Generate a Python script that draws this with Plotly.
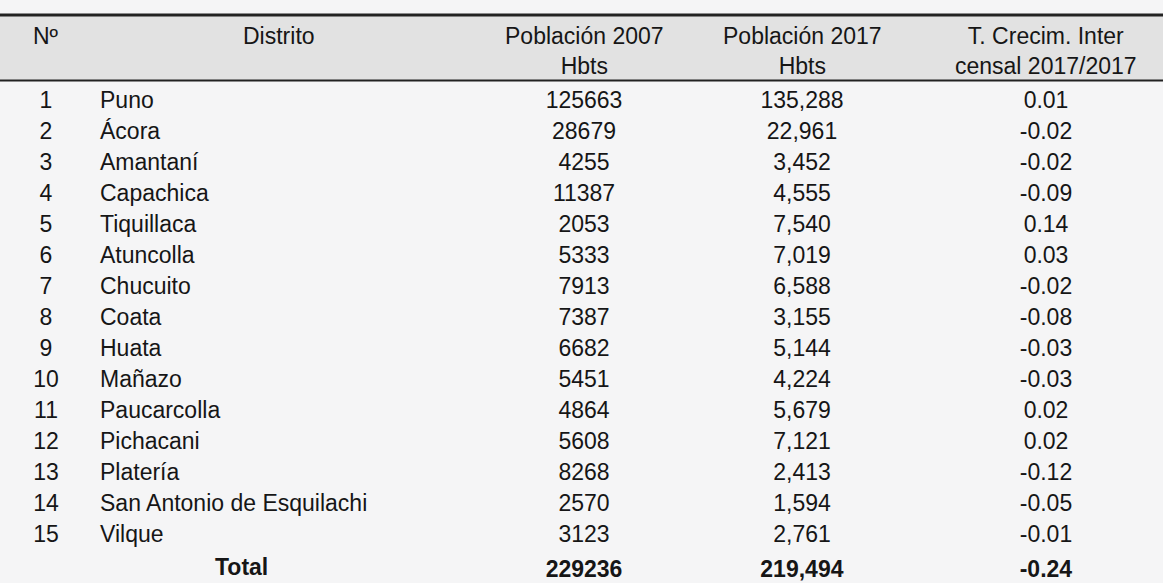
import plotly.graph_objects as go

# ---- data ----
numeros = list(range(1, 16))
distritos = ["Puno", "Ácora", "Amantaní", "Capachica", "Tiquillaca", "Atuncolla",
             "Chucuito", "Coata", "Huata", "Mañazo", "Paucarcolla", "Pichacani",
             "Platería", "San Antonio de Esquilachi", "Vilque"]
pob_2007 = [125663, 28679, 4255, 11387, 2053, 5333, 7913, 7387, 6682, 5451,
            4864, 5608, 8268, 2570, 3123]
pob_2017 = [135288, 22961, 3452, 4555, 7540, 7019, 6588, 3155, 5144, 4224,
            5679, 7121, 2413, 1594, 2761]
tasa = [0.01, -0.02, -0.02, -0.09, 0.14, 0.03, -0.02, -0.08, -0.03, -0.03,
        0.02, 0.02, -0.12, -0.05, -0.01]
total_label = "Total"
total_2007 = 229236
total_2017 = 219494
total_tasa = -0.24
headers = ["Nº", "Distrito", "Población 2007<br>Hbts", "Población 2017<br>Hbts",
           "T. Crecim. Inter<br>censal 2017/2017"]

# ---- style ----
W, H = 1163, 583
FONT = "Liberation Sans, Arial, sans-serif"
FS = 23
BG = "#f5f5f6"
HEAD_BG = "#e2e2e2"
TXT = "#161616"
col_widths = [92, 401, 182, 254, 234]
header_x = [46, 279, 584, 802, 1046]   # header label centres (px)
top_px = 15
header_h = 68
row_h = 31


def py(px):
    return 1 - px / H


col_no = [str(n) for n in numeros] + [""]
col_dist = distritos + [""]
col_07 = [str(v) for v in pob_2007] + [f"<b>{total_2007}</b>"]
col_17 = [f"{v:,}" for v in pob_2017] + [f"<b>{total_2017:,}</b>"]
col_t = [f"{v:.2f}" for v in tasa] + [f"<b>{total_tasa:.2f}</b>"]

fig = go.Figure(go.Table(
    domain=dict(x=[0, 1], y=[0, py(top_px)]),
    columnwidth=col_widths,
    header=dict(
        values=[""] * len(headers),
        height=header_h,
        fill_color=BG,
        line=dict(color=BG, width=0),
        font=dict(family=FONT, size=FS, color=TXT),
    ),
    cells=dict(
        values=[col_no, col_dist, col_07, col_17, col_t],
        align=["center", "left", "center", "center", "center"],
        height=row_h,
        fill_color=BG,
        line=dict(color=BG, width=0),
        font=dict(family=FONT, size=FS, color=TXT),
    ),
))

# header band and rules
fig.add_shape(type="rect", xref="paper", yref="paper", x0=0, x1=1,
              y0=py(80.5), y1=py(15), fillcolor=HEAD_BG, line_width=0,
              layer="above")
fig.add_shape(type="line", xref="paper", yref="paper", x0=0, x1=1,
              y0=py(15), y1=py(15), line=dict(color="#222", width=3))
fig.add_shape(type="line", xref="paper", yref="paper", x0=0, x1=1,
              y0=py(80.5), y1=py(80.5), line=dict(color="#222", width=2))

# header labels (centred line by line)
for hx, htxt in zip(header_x, headers):
    fig.add_annotation(x=hx / W, xref="paper", y=py(21), yref="paper",
                       text=htxt, showarrow=False, align="center",
                       font=dict(family=FONT, size=FS, color=TXT),
                       xanchor="center", yanchor="top")

# merged "Total" label across the first two columns
fig.add_annotation(x=241 / W, xref="paper", y=py(567), yref="paper",
                   text=f"<b>{total_label}</b>", showarrow=False,
                   font=dict(family=FONT, size=FS, color=TXT),
                   xanchor="center", yanchor="middle")

fig.update_layout(width=W, height=H, margin=dict(l=0, r=0, t=0, b=0),
                  paper_bgcolor=BG, plot_bgcolor=BG)
fig.write_html("out.html",
               config={"displayModeBar": False},
               post_script="document.body.style.margin='0';"
                           "document.body.style.background='" + BG + "';")
